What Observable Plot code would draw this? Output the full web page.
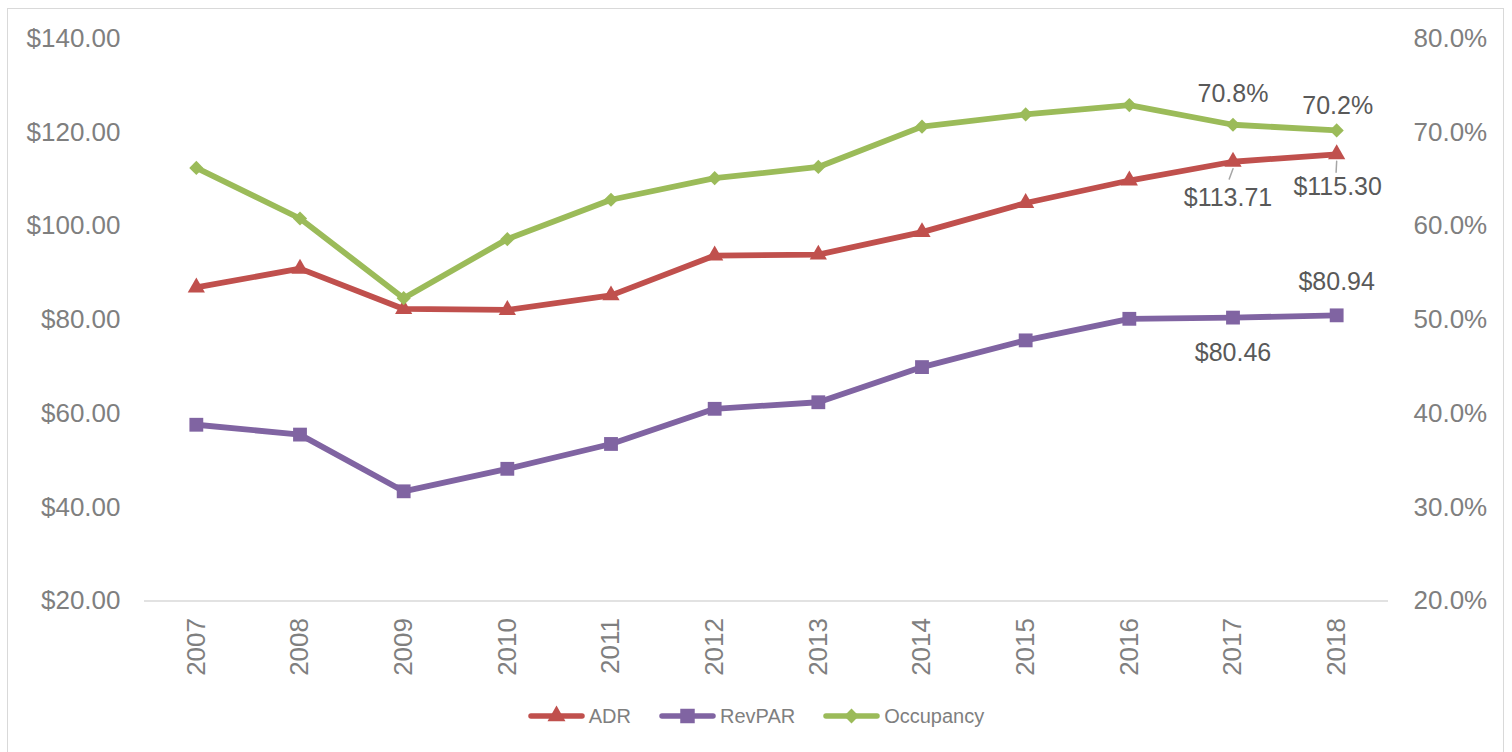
<!DOCTYPE html>
<html>
<head>
<meta charset="utf-8">
<script src="https://cdn.jsdelivr.net/npm/d3@7"></script>
<script src="https://cdn.jsdelivr.net/npm/@observablehq/plot@0.6"></script>
<style>
  html, body { margin: 0; padding: 0; background: #fff; overflow: hidden; }
  #wrap { position: relative; width: 1512px; height: 752px; overflow: hidden; font-family: "Liberation Sans", Arial, sans-serif; }
  #frame { position: absolute; left: 7px; top: 8px; width: 1497px; height: 760px; border: 1.5px solid #d9d9d9; box-sizing: border-box; }
  #chart { position: absolute; left: 0; top: 0; }
  #legend { position: absolute; left: 0; top: 703px; width: 1512px; height: 26px; display: flex; justify-content: center; align-items: center; gap: 28px; }
  .item { display: flex; align-items: center; gap: 4px; font-size: 20px; color: #7f7f7f; font-family: "Liberation Sans", Arial, sans-serif; }
  .item svg { display: block; }
</style>
</head>
<body>
<div id="wrap">
  <div id="frame"></div>
  <div id="chart"></div>
  <div id="legend"></div>
</div>
<script>
const years = ["2007","2008","2009","2010","2011","2012","2013","2014","2015","2016","2017","2018"];
const adr = [86.9, 90.9, 82.3, 82.1, 85.2, 93.7, 93.9, 98.7, 104.9, 109.7, 113.71, 115.30];
const revpar = [57.6, 55.5, 43.4, 48.2, 53.5, 61.0, 62.4, 69.9, 75.6, 80.2, 80.46, 80.94];
const occupancy = [66.2, 60.8, 52.3, 58.6, 62.8, 65.1, 66.3, 70.6, 71.9, 72.9, 70.8, 70.2];
const dollarTicks = [20, 40, 60, 80, 100, 120, 140];
const pctTicks = [20, 30, 40, 50, 60, 70, 80];
const seriesNames = ["ADR", "RevPAR", "Occupancy"];
const seriesColors = ["#C0504D", "#8064A2", "#9BBB59"];
const labeledYears = ["2017", "2018"];

// secondary axis (percent) mapped onto primary (dollar) axis: 20% -> $20, 80% -> $140
const pctToDollar = p => 20 + (p - 20) * 2;
const dollarToPct = d => 20 + (d - 20) / 2;

const rows = (vals, series) => years.map((year, i) => ({year, value: vals[i], series}));
const adrRows = rows(adr, "ADR");
const revRows = rows(revpar, "RevPAR");
const occRows = rows(occupancy, "Occupancy");

// label placement offsets (pixels) for the data labels
const labelOffsets = {
  "ADR-2017": {dx: -5, dy: 36}, "ADR-2018": {dx: 1, dy: 33},
  "RevPAR-2017": {dx: 0, dy: 35}, "RevPAR-2018": {dx: 0, dy: -33},
  "Occupancy-2017": {dx: 0, dy: -31}, "Occupancy-2018": {dx: 1, dy: -24}
};

const yOf = d => d.series === "Occupancy" ? pctToDollar(d.value) : d.value;
const fmt = d => d.series === "Occupancy" ? d.value.toFixed(1) + "%" : "$" + d.value.toFixed(2);

const labelRows = [...adrRows, ...revRows, ...occRows].filter(d => labeledYears.includes(d.year));
const labelMarks = labelRows.map(d => {
  const o = labelOffsets[d.series + "-" + d.year];
  return Plot.text([d], {x: "year", y: yOf, text: fmt, dx: o.dx, dy: o.dy, fill: "#595959", fontSize: 25});
});

const leaderShape = { draw(context, l) { context.moveTo(0, 0); context.lineTo(0, -l); } };
const leaders = Plot.vector(adrRows.filter(d => labeledYears.includes(d.year)), {
  x: "year", y: "value", anchor: "start", length: 11,
  rotate: d => d.year === "2017" ? 200 : 183,
  dy: 7, stroke: "#a6a6a6", strokeWidth: 1.5, shape: leaderShape
});

const chart = Plot.plot({
  width: 1512,
  height: 680,
  marginLeft: 144,
  marginRight: 124,
  marginTop: 38,
  marginBottom: 79.5,
  style: {fontFamily: "Liberation Sans, Arial, sans-serif", fontSize: "26px", color: "#7f7f7f", background: "transparent"},
  x: {type: "point", domain: years, padding: 0.5, round: false},
  y: {domain: [20, 140]},
  marks: [
    Plot.ruleY([20], {stroke: "#d9d9d9", strokeWidth: 1.5}),
    Plot.axisY(dollarTicks, {anchor: "left", tickSize: 0, tickPadding: 24, tickFormat: d => "$" + d.toFixed(2), fontSize: 26, fill: "#7f7f7f", label: null}),
    Plot.axisY(pctTicks.map(pctToDollar), {anchor: "right", tickSize: 0, tickPadding: 25, tickFormat: d => dollarToPct(d).toFixed(1) + "%", fontSize: 26, fill: "#7f7f7f", label: null}),
    Plot.axisX({tickRotate: -90, tickSize: 0, tickPadding: 17, fontSize: 26, fill: "#7f7f7f", label: null}),
    Plot.line(adrRows, {x: "year", y: "value", stroke: seriesColors[0], strokeWidth: 5.8}),
    Plot.line(revRows, {x: "year", y: "value", stroke: seriesColors[1], strokeWidth: 5.8}),
    Plot.line(occRows, {x: "year", y: d => pctToDollar(d.value), stroke: seriesColors[2], strokeWidth: 5.8}),
    Plot.dot(adrRows, {x: "year", y: "value", symbol: "triangle", r: 6.4, fill: seriesColors[0], stroke: "none"}),
    Plot.dot(revRows, {x: "year", y: "value", symbol: "square", r: 7.8, fill: seriesColors[1], stroke: "none"}),
    Plot.dot(occRows, {x: "year", y: d => pctToDollar(d.value), symbol: "diamond2", r: 6.4, fill: seriesColors[2], stroke: "none"}),
    leaders,
    ...labelMarks
  ]
});
document.getElementById("chart").appendChild(chart);

// legend
const symbolPaths = {
  ADR: d3.symbol(d3.symbolTriangle, 140)(),
  RevPAR: d3.symbol(d3.symbolSquare, 210)(),
  Occupancy: d3.symbol(d3.symbolDiamond2, 140)()
};
const legend = d3.select("#legend");
seriesNames.forEach((name, i) => {
  const item = legend.append("div").attr("class", "item");
  const svg = item.append("svg").attr("width", 57).attr("height", 22);
  svg.append("line").attr("x1", 3).attr("x2", 54).attr("y1", 11).attr("y2", 11)
    .attr("stroke", seriesColors[i]).attr("stroke-width", 5.5).attr("stroke-linecap", "round");
  svg.append("path").attr("d", symbolPaths[name]).attr("transform", "translate(28.5,11)").attr("fill", seriesColors[i]);
  item.append("span").text(name);
});
</script>
</body>
</html>
